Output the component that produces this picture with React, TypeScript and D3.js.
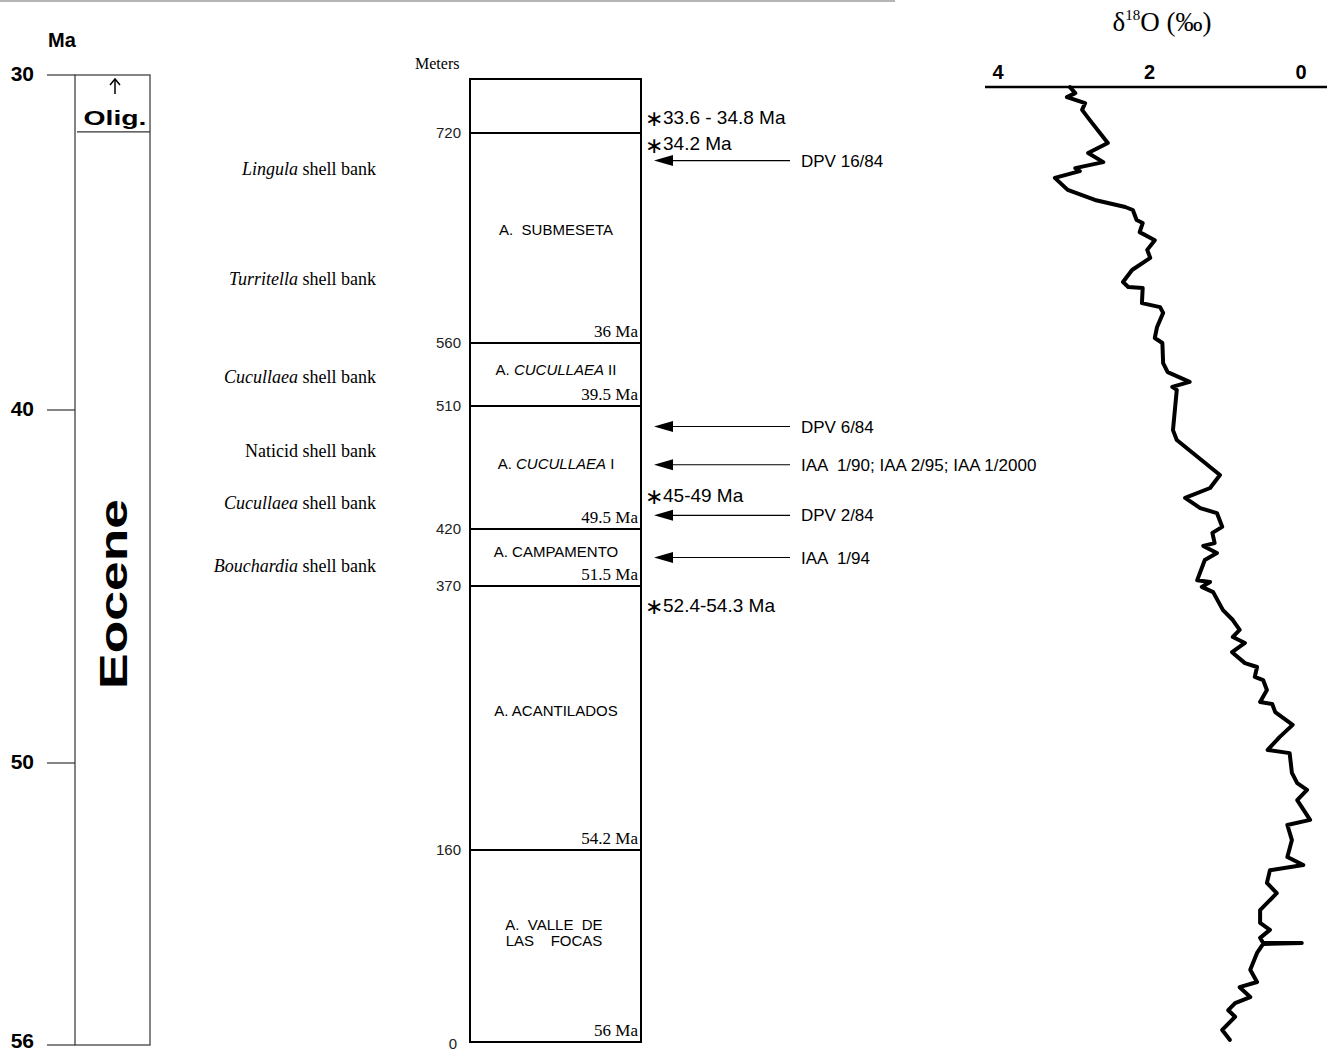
import React from 'react';
import * as d3 from 'd3';

// Ma column
const maTicks = [30, 40, 50, 56];
const oligBoundary = 31.7;

// stratigraphic column (meters)
const meterTicks = [0, 160, 370, 420, 510, 560, 720];
const boundaries = [
  { m: 720, age: '' },
  { m: 560, age: '36 Ma' },
  { m: 510, age: '39.5 Ma' },
  { m: 420, age: '49.5 Ma' },
  { m: 370, age: '51.5 Ma' },
  { m: 160, age: '54.2 Ma' },
  { m: 0, age: '56 Ma' },
];
const units = [
  { pre: 'A.  SUBMESETA', it: '', post: '', m: 646 },
  { pre: 'A. ', it: 'CUCULLAEA', post: ' II', m: 539 },
  { pre: 'A. ', it: 'CUCULLAEA', post: ' I', m: 468 },
  { pre: 'A. CAMPAMENTO', it: '', post: '', m: 400 },
  { pre: 'A. ACANTILADOS', it: '', post: '', m: 271 },
];
const shellBanks = [
  { genus: 'Lingula', italic: true, m: 693 },
  { genus: 'Turritella', italic: true, m: 609 },
  { genus: 'Cucullaea', italic: true, m: 533 },
  { genus: 'Naticid', italic: false, m: 477 },
  { genus: 'Cucullaea', italic: true, m: 439 },
  { genus: 'Bouchardia', italic: true, m: 388 },
];
const localities = [
  { label: 'DPV 16/84', m: 699 },
  { label: 'DPV 6/84', m: 495 },
  { label: 'IAA  1/90; IAA 2/95; IAA 1/2000', m: 467 },
  { label: 'DPV 2/84', m: 430 },
  { label: 'IAA  1/94', m: 395 },
];
const datings = [
  { label: '33.6 - 34.8 Ma', m: 733 },
  { label: '34.2 Ma', m: 713 },
  { label: '45-49 Ma', m: 446 },
  { label: '52.4-54.3 Ma', m: 356 },
];

// δ18O curve
const d18oTicks = [4, 2, 0];
const curveMa = [
  30.36, 30.54, 30.66, 30.84, 31.04, 31.34, 32.03, 32.33, 32.6, 32.78, 32.87, 33.07, 33.43, 33.73,
  33.94, 34.03, 34.33, 34.42, 34.69, 34.93, 35.22, 35.46, 35.82, 36.18, 36.33, 36.36, 36.81, 36.93,
  37.1, 37.52, 37.85, 38.0, 38.6, 38.87, 39.16, 39.31, 39.4, 40.57, 40.85, 41.84, 42.21, 42.49,
  42.78, 42.92, 43.31, 43.48, 43.77, 43.85, 44.05, 44.25, 44.82, 44.87, 45.01, 45.16, 45.67, 45.95,
  46.23, 46.43, 46.6, 46.86, 47.17, 47.28, 47.56, 47.65, 47.93, 48.27, 48.33, 48.56, 48.92, 49.26,
  49.63, 49.72, 50.21, 50.43, 50.57, 50.79, 51.21, 51.32, 51.64, 52.0, 52.17, 52.28, 52.55, 52.77,
  53.13, 53.4, 53.55, 53.72, 53.83, 53.83, 53.85, 54.04, 54.4, 54.66, 54.77, 54.98, 55.11, 55.26,
  55.4, 55.68, 55.89,
];
const curveD18o = [
  3.05, 2.98, 3.09, 2.85, 2.89, 2.79, 2.55, 2.81, 2.61, 2.98, 2.92, 3.25, 3.08, 2.72,
  2.32, 2.22, 2.17, 2.09, 2.13, 1.93, 2.03, 1.99, 2.23, 2.35, 2.28, 2.09, 2.1, 1.86,
  1.82, 1.9, 1.93, 1.83, 1.82, 1.76, 1.47, 1.7, 1.64, 1.69, 1.64, 1.07, 1.2, 1.53,
  1.33, 1.11, 1.04, 1.17, 1.14, 1.29, 1.11, 1.27, 1.37, 1.2, 1.31, 1.16, 1.03, 0.9,
  0.81, 0.9, 0.74, 0.91, 0.74, 0.58, 0.61, 0.5, 0.45, 0.54, 0.38, 0.34, 0.11, 0.28,
  0.44, 0.15, 0.12, 0.05, -0.08, 0.05, -0.12, 0.18, 0.12, 0.18, -0.03, 0.41, 0.45, 0.32,
  0.54, 0.54, 0.41, 0.54, 0.5, -0.01, 0.5, 0.58, 0.67, 0.58, 0.81, 0.67, 0.87, 0.96,
  0.87, 1.04, 0.94,
];

const sans = '"Liberation Sans", Arial, sans-serif';
const serif = '"Liberation Serif", "Times New Roman", serif';

export default function App() {
  const W = 1327;
  const H = 1051;

  const yMa = d3.scaleLinear().domain([30, 40, 50, 56]).range([75, 410, 763, 1045]);
  const yM = d3.scaleLinear()
    .domain([0, 160, 370, 420, 510, 560, 720, 760])
    .range([1042, 850, 586, 529, 406, 343, 133, 79]);
  const xD = d3.scaleLinear().domain([4, 0]).range([998, 1301]);

  const colL = 470;
  const colR = 641;
  const colMid = 556;

  const line = d3.line<number>()
    .x((_, i) => xD(curveD18o[i]))
    .y((d) => yMa(d))
    .curve(d3.curveLinear);

  return (
    <svg width={W} height={H} style={{ position: 'absolute', left: 0, top: 0, background: '#fff' }}>
      <line x1={0} x2={895} y1={1} y2={1} stroke="#b5b5b5" strokeWidth={2} />

      {/* Ma column */}
      <text x={48} y={47} fontFamily={sans} fontWeight="bold" fontSize={20}>Ma</text>
      {maTicks.map((t, i) => (
        <g key={t}>
          <line x1={47} x2={75} y1={yMa(t)} y2={yMa(t)} stroke="#333" strokeWidth={1.2} />
          <text x={34} y={yMa(t)} dy={i === maTicks.length - 1 ? '0.12em' : '0.3em'} textAnchor="end" fontFamily={sans} fontWeight="bold" fontSize={21}>{t}</text>
        </g>
      ))}
      <rect x={75} y={yMa(30)} width={75} height={yMa(56) - yMa(30)} fill="none" stroke="#333" strokeWidth={1.2} />
      <line x1={77} x2={150} y1={yMa(oligBoundary)} y2={yMa(oligBoundary)} stroke="#333" strokeWidth={1.2} />
      <line x1={115} x2={115} y1={80} y2={94} stroke="#000" strokeWidth={1.5} />
      <path d="M110,85 L115,79 L120,85" fill="none" stroke="#000" strokeWidth={1.5} />
      <text x={115} y={125} textAnchor="middle" fontFamily={sans} fontWeight="bold" fontSize={21} textLength={63} lengthAdjust="spacingAndGlyphs">Olig.</text>
      <text
        transform={`translate(127,${(498 + 690) / 2}) rotate(-90)`}
        textAnchor="middle"
        fontFamily={sans}
        fontWeight="bold"
        fontSize={38}
        textLength={190}
        lengthAdjust="spacingAndGlyphs"
      >Eocene</text>

      {/* shell banks */}
      {shellBanks.map((s, i) => (
        <text key={i} x={376} y={yM(s.m)} dy="0.35em" textAnchor="end" fontFamily={serif} fontSize={18}>
          <tspan fontStyle={s.italic ? 'italic' : 'normal'}>{s.genus}</tspan> shell bank
        </text>
      ))}

      {/* meters column */}
      <text x={415} y={69} fontFamily={serif} fontSize={16}>Meters</text>
      {meterTicks.map((t) => (
        <text key={t} x={t === 0 ? 457 : 461} y={yM(t)} dy={t === 0 ? '0.45em' : '0.36em'} textAnchor="end" fontFamily={sans} fontSize={15} fill="#222">{t}</text>
      ))}
      <rect x={colL} y={yM(760)} width={colR - colL} height={yM(0) - yM(760)} fill="none" stroke="#000" strokeWidth={2} />
      {boundaries.map((b) => (
        <g key={b.m}>
          {b.m > 0 && <line x1={colL} x2={colR} y1={yM(b.m)} y2={yM(b.m)} stroke="#000" strokeWidth={2} />}
          {b.age && (
            <text x={colR - 3} y={yM(b.m) - 6} textAnchor="end" fontFamily={serif} fontSize={17}>{b.age}</text>
          )}
        </g>
      ))}
      {units.map((u, i) => (
        <text key={i} x={colMid} y={yM(u.m)} dy="0.35em" textAnchor="middle" fontFamily={sans} fontSize={15} style={{ whiteSpace: 'pre' }}>
          {u.pre}
          {u.it && <tspan fontStyle="italic">{u.it}</tspan>}
          {u.post}
        </text>
      ))}
      <text x={554} y={yM(91)} textAnchor="middle" fontFamily={sans} fontSize={15} style={{ whiteSpace: 'pre' }}>
        <tspan x={554} dy="-3">A.  VALLE  DE</tspan>
        <tspan x={554} dy="16">LAS    FOCAS</tspan>
      </text>

      {/* datings */}
      {datings.map((d, i) => (
        <text key={i} x={645} y={yM(d.m)} fontFamily={sans} fontSize={19}>
          <tspan fontSize={22} dy="0.48em">∗</tspan>
          <tspan dy="-0.12em">{d.label}</tspan>
        </text>
      ))}

      {/* locality arrows */}
      {localities.map((l, i) => (
        <g key={i}>
          <line x1={668} x2={790} y1={yM(l.m)} y2={yM(l.m)} stroke="#000" strokeWidth={1.2} />
          <path d={`M654,${yM(l.m)} L673,${yM(l.m) - 5.5} L673,${yM(l.m) + 5.5} Z`} fill="#000" />
          <text x={801} y={yM(l.m)} dy="0.36em" fontFamily={sans} fontSize={17} style={{ whiteSpace: 'pre' }}>{l.label}</text>
        </g>
      ))}

      {/* δ18O */}
      <text x={1162} y={31} textAnchor="middle" fontFamily={serif} fontSize={27}>
        δ<tspan fontSize={15} dy="-11">18</tspan><tspan dy="11">O (‰)</tspan>
      </text>
      <line x1={985} x2={1327} y1={87} y2={87} stroke="#000" strokeWidth={2.5} />
      {d18oTicks.map((t) => (
        <text key={t} x={xD(t)} y={79} textAnchor="middle" fontFamily={sans} fontWeight="bold" fontSize={20}>{t}</text>
      ))}
      <path d={line(curveMa) || ''} fill="none" stroke="#000" strokeWidth={4} strokeLinejoin="round" strokeLinecap="round" />
    </svg>
  );
}
